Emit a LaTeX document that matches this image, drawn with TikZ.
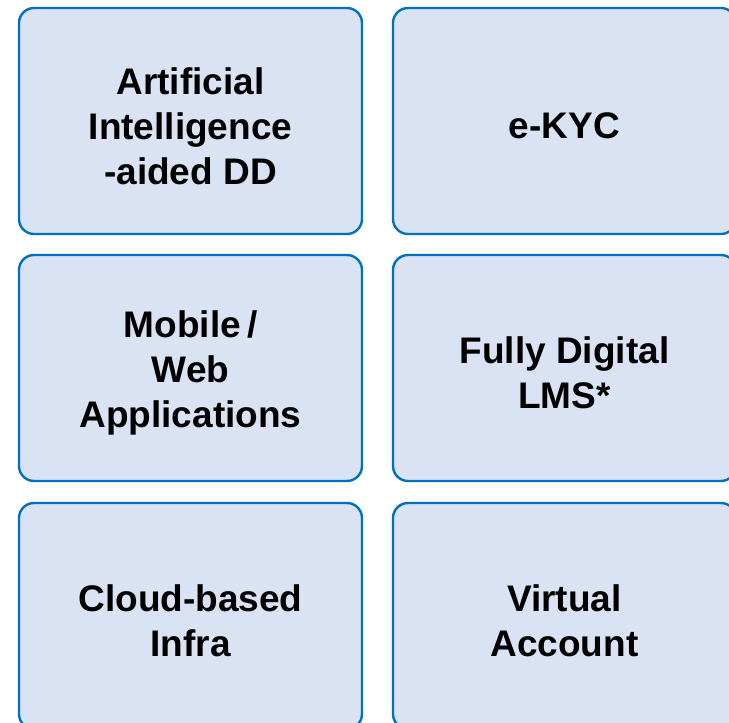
\documentclass[tikz,border=0pt]{standalone}
\usepackage{fontspec}
\setmainfont{Liberation Sans}
\definecolor{boxline}{RGB}{0,112,192}
\definecolor{boxfill}{RGB}{218,227,243}
\begin{document}
\begin{tikzpicture}[x=1pt,y=-1pt,
  tile/.style={draw=boxline, fill=boxfill, line width=2.4pt, rounded corners=15pt,
    minimum width=343pt, minimum height=226pt, inner sep=0pt},
  tiletext/.style={align=center, inner sep=0pt, yshift=-5pt,
    font=\fontsize{37}{45}\selectfont\bfseries, text=black}]
\useasboundingbox (0,0) rectangle (729,723);
\clip (0,0) rectangle (729,723);
\node[tile] (ai) at (190.5,121) {};
\node[tile] (ekyc) at (564.5,121) {};
\node[tile] (mob) at (190.5,368) {};
\node[tile] (lms) at (564.5,368) {};
\node[tile] (cloud) at (190.5,616) {};
\node[tile] (va) at (564.5,616) {};
\node[tiletext] (ait) at (ai.center) {Artificial\\Intelligence\\-aided DD};
\node[tiletext] (ekyct) at (ekyc.center) {e-KYC};
\node[tiletext] (mobt) at (mob.center) {Mobile\,/\\Web\\Applications};
\node[tiletext] (lmst) at (lms.center) {Fully Digital\\LMS*};
\node[tiletext] (cloudt) at (cloud.center) {Cloud-based\\Infra};
\node[tiletext] (vat) at (va.center) {Virtual\\Account};
\end{tikzpicture}
\end{document}
